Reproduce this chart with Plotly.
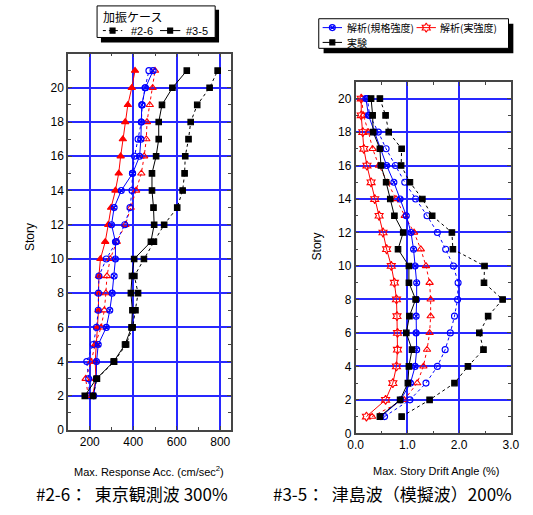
import plotly.graph_objects as go

W, H = 533, 515

# ---- data -------------------------------------------------------------
floors_acc = list(range(2, 22))      # stories 2..21 (response acceleration)
floors_drift = list(range(1, 21))    # stories 1..20 (story drift angle)

# Max. response acceleration (cm/sec^2)
acc_exp_26 = [215, 233, 312, 367, 397, 410, 422, 405, 449, 495,
              542, 602, 627, 636, 639, 654, 664, 694, 751, 788]
acc_exp_35 = [177, 231, 310, 362, 392, 396, 389, 394, 404, 481,
              496, 493, 486, 486, 505, 517, 517, 532, 580, 646]
acc_nom_26 = [198, 195, 186, 216, 231, 239, 240, 242, 276, 322,
              361, 385, 394, 396, 406, 422, 437, 441, 454, 472]
acc_nom_35 = [218, 230, 231, 239, 276, 292, 303, 312, 318, 318,
              300, 312, 345, 397, 429, 435, 437, 439, 456, 491]
acc_act_26 = [193, 181, 206, 225, 252, 267, 274, 279, 294, 324,
              364, 388, 413, 437, 450, 460, 463, 476, 489, 500]
acc_act_35 = [213, 228, 225, 231, 234, 240, 240, 242, 249, 271,
              285, 298, 318, 333, 342, 352, 363, 375, 393, 408]

# Max. story drift angle (%)
drift_exp_26 = [0.89, 1.43, 1.91, 2.17, 2.47, 2.39, 2.56, 2.84, 2.48, 2.49,
                1.88, 1.86, 1.48, 1.29, 1.05, 0.88, 0.89, 0.64, 0.58, 0.47]
drift_exp_35 = [0.47, 0.86, 1.01, 1.03, 1.09, 0.98, 1.04, 1.16, 1.03, 1.03,
                0.82, 0.92, 0.75, 0.67, 0.59, 0.49, 0.47, 0.34, 0.33, 0.30]
drift_nom_26 = [0.56, 1.05, 1.36, 1.58, 1.73, 1.83, 1.91, 1.97, 1.98, 1.89,
                1.74, 1.58, 1.38, 1.16, 0.95, 0.77, 0.59, 0.44, 0.27, 0.23]
drift_nom_35 = [0.49, 0.87, 1.06, 1.15, 1.18, 1.17, 1.17, 1.18, 1.18, 1.15,
                1.12, 1.07, 0.98, 0.86, 0.74, 0.60, 0.48, 0.37, 0.25, 0.20]
drift_act_26 = [0.32, 0.94, 1.19, 1.31, 1.38, 1.43, 1.45, 1.45, 1.43, 1.36,
                1.26, 1.13, 0.95, 0.78, 0.61, 0.45, 0.33, 0.25, 0.15, 0.12]
drift_act_35 = [0.21, 0.58, 0.72, 0.79, 0.81, 0.81, 0.80, 0.79, 0.75, 0.69,
                0.60, 0.53, 0.455, 0.37, 0.30, 0.22, 0.16, 0.14, 0.11, 0.11]

acc_ticks = [200, 400, 600, 800]
drift_ticks = [0, 1, 2, 3]
drift_ticktext = ["0.0", "1.0", "2.0", "3.0"]
story_ticks = list(range(0, 21, 2))

RED, BLUE, BLACK = "#ff0000", "#0000ff", "#000000"
GRID = "#2828ff"
AXIS = "#454545"
LATIN = "Liberation Sans, Arial, sans-serif"
CJK = "Noto Sans CJK JP, sans-serif"

fig = go.Figure()


def series(x, y, color, dash, symbol, xa, ya, size=6):
    fig.add_trace(go.Scatter(
        x=x, y=y, mode="lines+markers", xaxis=xa, yaxis=ya,
        line=dict(color=color, width=1, dash=dash),
        marker=dict(symbol=symbol, size=size, color=color,
                    line=dict(color=color, width=1.1)),
        showlegend=False, hoverinfo="skip"))


# acceleration profiles
series(acc_act_35, floors_acc, RED, "solid", "triangle-up", "x", "y", 6.5)
series(acc_act_26, floors_acc, RED, "dot", "triangle-up-open", "x", "y", 6.5)
series(acc_nom_26, floors_acc, BLUE, "dot", "circle-open", "x", "y")
series(acc_nom_35, floors_acc, BLUE, "solid", "circle-x-open", "x", "y")
series(acc_exp_26, floors_acc, BLACK, "dot", "square", "x", "y", 5.5)
series(acc_exp_35, floors_acc, BLACK, "solid", "square", "x", "y", 5.5)

# drift profiles
series(drift_act_26, floors_drift, RED, "dot", "triangle-up-open", "x2", "y2", 6.5)
series(drift_act_35, floors_drift, RED, "solid", "hexagram-open", "x2", "y2", 7)
series(drift_nom_26, floors_drift, BLUE, "dot", "circle-open", "x2", "y2")
series(drift_nom_35, floors_drift, BLUE, "solid", "circle-x-open", "x2", "y2")
series(drift_exp_26, floors_drift, BLACK, "dot", "square", "x2", "y2", 5.5)
series(drift_exp_35, floors_drift, BLACK, "solid", "square", "x2", "y2", 5.5)


# ---- legend keys, drawn on a pixel-space overlay axis -------------------
def key(x0, x1, y, color, dash, symbol, size):
    fig.add_trace(go.Scatter(
        x=[x0, x1], y=[y, y], mode="lines", xaxis="x3", yaxis="y3",
        line=dict(color=color, width=1, dash=dash),
        showlegend=False, hoverinfo="skip"))
    fig.add_trace(go.Scatter(
        x=[(x0 + x1) / 2], y=[y], mode="markers", xaxis="x3", yaxis="y3",
        marker=dict(symbol=symbol, size=size, color=color,
                    line=dict(color=color, width=1.1)),
        showlegend=False, hoverinfo="skip"))


key(98, 118, 31, BLACK, "dot", "square", 5)
key(157, 178, 31, BLACK, "solid", "square", 5)
key(325, 345, 28, BLUE, "solid", "circle-x-open", 6)
key(422, 442, 28, RED, "solid", "hexagram-open", 7)
key(325, 345, 43, BLACK, "solid", "square", 5)

shapes = [
    # shadows then boxes of the two legends
    dict(type="rect", xref="x3", yref="y3", x0=96, x1=218, y0=10, y1=43,
         fillcolor="black", line=dict(width=0), layer="below"),
    dict(type="rect", xref="x3", yref="y3", x0=92, x1=214, y0=6, y1=38,
         fillcolor="white", line=dict(color="black", width=1), layer="below"),
    dict(type="rect", xref="x3", yref="y3", x0=326, x1=522, y0=24, y1=54,
         fillcolor="black", line=dict(width=0), layer="below"),
    dict(type="rect", xref="x3", yref="y3", x0=321, x1=517, y0=19, y1=49,
         fillcolor="white", line=dict(color="black", width=1), layer="below"),
]


def text(x, y, s, size, family=LATIN, xanchor="left", angle=0):
    return dict(x=x, y=y, xref="x3", yref="y3", text=s, showarrow=False,
                xanchor=xanchor, yanchor="middle", textangle=angle,
                font=dict(family=family, size=size, color="black"))


annotations = [
    text(96, 17, "加振ケース", 12, CJK),
    text(125, 31, "#2-6", 11),
    text(182, 31, "#3-5", 11),
    text(348, 28, "解析(規格強度)", 10, CJK),
    text(444, 28, "解析(実強度)", 10, CJK),
    text(348, 43, "実験", 10, CJK),
    text(22, 240, "Story", 12, angle=-90, xanchor="center"),
    text(319, 250, "Story", 12, angle=-90, xanchor="center"),
    text(146, 477, "Max. Response Acc. (cm/sec<sup>2</sup>)", 11, xanchor="center"),
    text(443, 477, "Max. Story Drift Angle (%)", 11, xanchor="center"),
    text(128, 500, "#2-6：  東京観測波 300%", 17, CJK, xanchor="center"),
    text(397, 500, "#3-5：  津島波（模擬波）200%", 17, CJK, xanchor="center"),
]

axis_common = dict(
    showline=True, linecolor=AXIS, linewidth=1.5, mirror="ticks",
    ticks="inside", ticklen=4, tickcolor=AXIS, tickwidth=1,
    showgrid=True, gridcolor=GRID, gridwidth=1.5, zeroline=False,
    tickfont=dict(family=LATIN, size=12, color="black"),
)

fig.update_layout(
    width=W, height=H,
    margin=dict(l=0, r=0, t=0, b=0),
    paper_bgcolor="white", plot_bgcolor="rgba(0,0,0,0)",
    showlegend=False,
    xaxis=dict(axis_common, domain=[62 / W, 230.5 / W], range=[100, 850],
               tickmode="array", tickvals=acc_ticks, anchor="y",
               minor=dict(ticks="inside", ticklen=3, dtick=100, tick0=0,
                          tickcolor=AXIS, showgrid=False)),
    yaxis=dict(axis_common, domain=[1 - 436 / H, 1 - 54.3 / H], range=[0, 22],
               tickmode="array", tickvals=story_ticks, anchor="x",
               minor=dict(ticks="inside", ticklen=3, dtick=1, tick0=0,
                          tickcolor=AXIS, showgrid=False)),
    xaxis2=dict(axis_common, domain=[359 / W, 519.5 / W], range=[0, 3],
                tickmode="array", tickvals=drift_ticks,
                ticktext=drift_ticktext, anchor="y2",
                minor=dict(ticks="inside", ticklen=3, dtick=0.5, tick0=0,
                           tickcolor=AXIS, showgrid=False)),
    yaxis2=dict(axis_common, domain=[1 - 439.3 / H, 1 - 83 / H], range=[0, 21],
                tickmode="array", tickvals=story_ticks, anchor="x2",
                minor=dict(ticks="inside", ticklen=3, dtick=1, tick0=0,
                           tickcolor=AXIS, showgrid=False)),
    xaxis3=dict(domain=[0, 1], range=[0, W], visible=False, fixedrange=True,
                anchor="y3"),
    yaxis3=dict(domain=[0, 1], range=[H, 0], visible=False, fixedrange=True,
                anchor="x3"),
    shapes=shapes,
    annotations=annotations,
)

fig.write_html("out.html")
